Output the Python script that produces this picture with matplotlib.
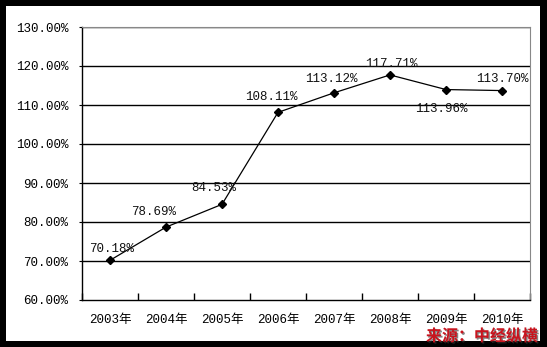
import matplotlib.pyplot as plt
import matplotlib.patheffects as pe
from matplotlib.patches import Rectangle
from matplotlib.ticker import FixedLocator, NullFormatter

plt.rcParams['font.family'] = ['Liberation Mono', 'Noto Sans CJK SC', 'DejaVu Sans']

years = ["2003年", "2004年", "2005年", "2006年", "2007年", "2008年", "2009年", "2010年"]
values = [70.18, 78.69, 84.53, 108.11, 113.12, 117.71, 113.96, 113.70]
labels = ["70.18%", "78.69%", "84.53%", "108.11%", "113.12%", "117.71%", "113.96%", "113.70%"]
# label offsets in points (dx, dy)
offsets = [(1, 8), (-9, 11), (-6, 12), (-5, 11), (-2, 10), (1, 8), (-3, -14), (0, 8)]

W, H = 547, 347
fig = plt.figure(figsize=(W / 100, H / 100), dpi=100, facecolor="black")
fig.patches.append(Rectangle((6 / W, 1 - 341 / H), 534 / W, 335 / H,
                             transform=fig.transFigure, facecolor="white",
                             edgecolor="none", zorder=-1))

ax = fig.add_axes([82 / W, 1 - 300 / H, 448 / W, 273 / H])
ax.set_zorder(1)
x = [i + 0.5 for i in range(len(years))]
ax.plot(x, values, color="black", linewidth=0.9, marker="D", markersize=4.5, zorder=3)

for xi, v, lab, (dx, dy) in zip(x, values, labels, offsets):
    ax.annotate(lab, (xi, v), xytext=(dx, dy), textcoords="offset points",
                ha="center", va="center", fontsize=9, color="#111111")

ax.set_xlim(0, len(years))
ax.set_ylim(60, 130)
ax.set_yticks(range(60, 131, 10))
ax.set_yticklabels([f"{v}.00%" for v in range(60, 131, 10)], fontsize=9)
for v in range(70, 131, 10):
    ax.axhline(v, color="black", linewidth=1, zorder=1)

ax.xaxis.set_major_locator(FixedLocator(range(0, len(years) + 1)))
ax.xaxis.set_major_formatter(NullFormatter())
ax.xaxis.set_minor_locator(FixedLocator(x))
ax.set_xticklabels(years, minor=True, fontsize=9)
ax.tick_params(axis="x", which="major", direction="in", length=5, width=1)
ax.tick_params(axis="x", which="minor", length=0, pad=10)
ax.tick_params(axis="y", length=2, pad=8)

for side in ["top", "right"]:
    ax.spines[side].set_color("#888888")
for side in ["left", "bottom"]:
    ax.spines[side].set_color("black")
    ax.spines[side].set_linewidth(1)

fig.text(538 / W, 1 - 336 / H, "来源：中经纵横", ha="right", va="center",
         fontsize=11.5, fontweight="bold", color="#c8141e",
         family=["Noto Sans CJK SC", "DejaVu Sans"],
         path_effects=[pe.withSimplePatchShadow(offset=(1, -1), shadow_rgbFace="#333333", alpha=0.6)])

fig.savefig("out.png", dpi=100, facecolor=fig.get_facecolor())
